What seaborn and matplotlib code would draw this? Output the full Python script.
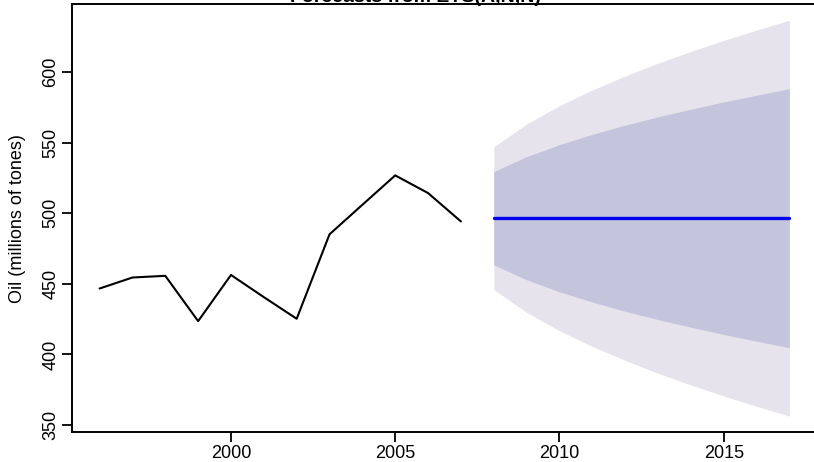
import matplotlib
matplotlib.use("Agg")
import matplotlib.pyplot as plt
import seaborn as sns
import pandas as pd

# Annual oil production (millions of tonnes)
years = [1996, 1997, 1998, 1999, 2000, 2001, 2002, 2003, 2004, 2005, 2006, 2007]
oil = [446.7, 454.5, 455.7, 423.6, 456.3, 440.6, 425.3, 485.1, 506.0, 526.8, 514.3, 494.2]

# ETS(A,N,N) forecasts with 80% and 95% prediction intervals
fc_years = [2008, 2009, 2010, 2011, 2012, 2013, 2014, 2015, 2016, 2017]
fc_mean = [496.5, 496.5, 496.5, 496.5, 496.5, 496.5, 496.5, 496.5, 496.5, 496.5]
lo80 = [463.5, 452.9, 444.4, 437.1, 430.6, 424.7, 419.3, 414.2, 409.4, 404.8]
hi80 = [529.5, 540.1, 548.6, 555.9, 562.4, 568.3, 573.7, 578.8, 583.6, 588.2]
lo95 = [446.0, 429.8, 416.8, 405.7, 395.8, 386.7, 378.4, 370.6, 363.3, 356.3]
hi95 = [547.0, 563.2, 576.2, 587.3, 597.2, 606.3, 614.6, 622.4, 629.7, 636.7]

y_ticks = [350, 400, 450, 500, 550, 600]
x_ticks = [2000, 2005, 2010, 2015]

sns.set_theme(style="ticks")
plt.rcParams["font.family"] = ["Liberation Sans", "DejaVu Sans"]

W, H = 814, 462
fig = plt.figure(figsize=(W / 100, H / 100), dpi=100)
left, right, bottom, top = 72, 817, 432, 4.4
ax = fig.add_axes([left / W, (H - bottom) / H, (right - left) / W, (bottom - top) / H])

hist = pd.DataFrame({"year": years, "oil": oil})
fc = pd.DataFrame({"year": fc_years, "mean": fc_mean,
                   "lo80": lo80, "hi80": hi80, "lo95": lo95, "hi95": hi95})

ax.fill_between(fc["year"], fc["lo95"], fc["hi95"], color="#E6E3EC", linewidth=0, zorder=1)
ax.fill_between(fc["year"], fc["lo80"], fc["hi80"], color="#C4C4DC", linewidth=0, zorder=2)

sns.lineplot(data=hist, x="year", y="oil", ax=ax, color="black", linewidth=1.5, zorder=3)
sns.lineplot(data=fc, x="year", y="mean", ax=ax, color="#0000F0", linewidth=2.4, zorder=4)

ax.set_xlim(1995.16, 2017.84)
ax.set_ylim(345.1, 647.9)
ax.set_xticks(x_ticks)
ax.set_xticklabels([str(t) for t in x_ticks], fontsize=13)
ax.set_yticks(y_ticks)
ax.set_yticklabels([str(t) for t in y_ticks], fontsize=13, rotation=90, va="center")
ax.tick_params(axis="both", direction="out", length=7, width=1.3, color="black",
               labelcolor="black")
ax.tick_params(axis="x", pad=2)
ax.tick_params(axis="y", pad=2)
ax.set_xlabel("")
ax.set_ylabel("Oil (millions of tones)", fontsize=13, color="black", labelpad=12)
for s in ax.spines.values():
    s.set_color("black")
    s.set_linewidth(1.4)

fig.text(415 / W, 1 - 1.5 / H, "Forecasts from ETS(A,N,N)", ha="center", va="baseline",
         fontsize=14, fontweight="bold", color="black")

fig.savefig("out.png", dpi=100)
